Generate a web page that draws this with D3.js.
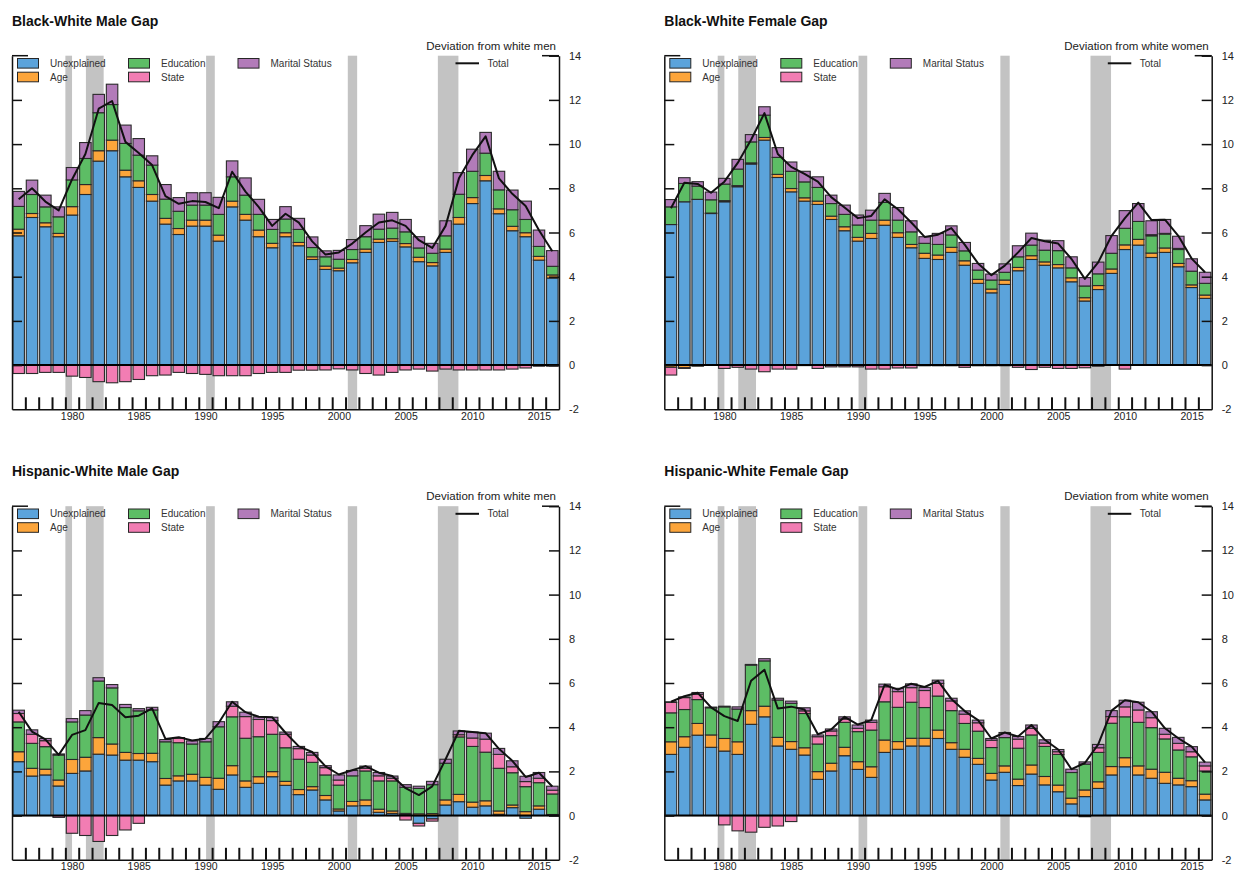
<!DOCTYPE html>
<html><head><meta charset="utf-8">
<script src="https://cdn.jsdelivr.net/npm/d3@7"></script>
<style>
body{margin:0;background:#fff}
svg{display:block}
text{font-family:"Liberation Sans",Arial,Helvetica,sans-serif}
</style>
</head><body>
<svg id="c" width="1236" height="872"></svg>
<script>
// ---------- DATA ----------
const years = [1976,1977,1978,1979,1980,1981,1982,1983,1984,1985,1986,1987,1988,1989,1990,1991,1992,1993,1994,1995,1996,1997,1998,1999,2000,2001,2002,2003,2004,2005,2006,2007,2008,2009,2010,2011,2012,2013,2014,2015,2016];
const components = ["Unexplained","Age","Education","State","Marital Status"];
const yTicks = [-2,0,2,4,6,8,10,12,14];
const yearLabels = [1980,1985,1990,1995,2000,2005,2010,2015];
const recessions = [[1980.0,1980.5],[1981.54,1982.87],[1990.55,1991.2],[2001.17,2001.87],[2007.92,2009.46]];

// Black-White Male
const bwmUnexplained = [5.85,6.68,6.26,5.81,6.79,7.72,9.23,9.70,8.52,8.04, 7.42,6.38,5.91,6.29,6.29,5.61,7.16,6.56,5.81,5.31, 5.81,5.40,4.78,4.33,4.27,4.63,5.10,5.55,5.60,5.35, 4.68,4.49,5.10,6.38,7.31,8.34,6.85,6.08,5.81,4.75, 3.94];
const bwmAge = [0.30,0.18,0.18,0.15,0.38,0.45,0.47,0.48,0.30,0.30, 0.30,0.26,0.27,0.27,0.27,0.27,0.26,0.26,0.30,0.20, 0.18,0.15,0.12,0.15,0.12,0.15,0.15,0.15,0.12,0.15, 0.20,0.15,0.15,0.30,0.27,0.24,0.22,0.20,0.18,0.17, 0.14];
const bwmEducation = [1.03,0.86,0.72,0.75,1.21,1.18,1.72,1.61,1.21,1.16, 1.33,0.87,0.78,0.68,0.68,0.94,1.10,0.87,0.71,0.63, 0.62,0.59,0.42,0.42,0.40,0.45,0.56,0.45,0.48,0.53, 0.42,0.42,0.60,1.05,1.19,1.01,0.86,0.75,0.60,0.45, 0.39];
const bwmState = [-0.38,-0.38,-0.33,-0.33,-0.50,-0.56,-0.75,-0.80,-0.75,-0.65, -0.48,-0.45,-0.33,-0.38,-0.42,-0.48,-0.48,-0.48,-0.38,-0.33, -0.33,-0.23,-0.23,-0.22,-0.17,-0.22,-0.38,-0.45,-0.33,-0.22, -0.18,-0.27,-0.18,-0.22,-0.22,-0.22,-0.22,-0.18,-0.13,-0.05, -0.05];
const bwmMarital = [0.68,0.65,0.53,0.45,0.56,0.72,0.83,0.92,0.83,0.75, 0.42,0.66,0.62,0.56,0.56,0.77,0.72,0.78,0.68,0.45, 0.56,0.50,0.48,0.27,0.40,0.45,0.50,0.68,0.71,0.56, 0.51,0.45,0.68,0.98,1.00,0.94,0.84,0.89,0.83,0.74, 0.71];
const bwmTotal = [7.5,8.0,7.4,7.0,8.4,9.55,11.6,11.95,10.1,9.6, 9.05,7.65,7.3,7.42,7.38,7.1,8.75,7.85,7.15,6.3, 6.85,6.45,5.6,5.0,5.1,5.5,6.0,6.45,6.55,6.3, 5.65,5.3,6.3,8.45,9.5,10.35,8.45,7.75,7.2,6.1, 5.15];

// Black-White Female
const bwfUnexplained = [6.36,7.39,7.50,6.86,7.39,8.07,9.10,10.18,8.49,7.84, 7.42,7.27,6.59,6.08,5.61,5.73,6.33,5.78,5.31,4.83, 4.78,5.10,4.52,3.70,3.27,3.65,4.27,4.78,4.52,4.40, 3.77,2.90,3.42,4.15,5.23,5.43,4.87,5.10,4.45,3.51, 3.02];
const bwfAge = [-0.10,-0.12,-0.05,0.02,0.05,0.05,0.05,0.12,0.14,0.15, 0.15,0.15,0.15,0.18,0.17,0.23,0.23,0.21,0.15,0.23, 0.20,0.23,0.20,0.18,0.17,0.20,0.15,0.17,0.15,0.15, 0.18,0.15,0.18,0.20,0.21,0.26,0.20,0.20,0.15,0.12, 0.15];
const bwfEducation = [0.80,0.83,0.60,0.60,0.75,0.75,0.95,1.01,0.77,0.78, 0.72,0.62,0.57,0.56,0.56,0.60,0.80,0.57,0.57,0.45, 0.48,0.56,0.45,0.42,0.41,0.35,0.48,0.48,0.53,0.63, 0.45,0.53,0.53,0.71,0.75,0.81,0.78,0.63,0.63,0.62, 0.53];
const bwfState = [-0.35,-0.03,0,0,-0.15,-0.10,-0.18,-0.30,-0.18,-0.18, -0.02,-0.15,-0.08,-0.08,-0.08,-0.18,-0.18,-0.13,-0.13,-0.03, -0.03,-0.03,-0.10,-0.03,-0.03,-0.03,-0.10,-0.20,-0.10,-0.15, -0.15,-0.12,-0.05,0,-0.18,0,0.05,0.03,0.05,0, 0];
const bwfMarital = [0.33,0.26,0.20,0.35,0.26,0.44,0.33,0.38,0.44,0.42, 0.48,0.48,0.38,0.42,0.45,0.45,0.41,0.57,0.50,0.30, 0.50,0.41,0.38,0.30,0.27,0.38,0.50,0.54,0.45,0.45, 0.50,0.38,0.53,0.80,0.80,0.81,0.63,0.63,0.55,0.56, 0.50];
const bwfTotal = [7.1,8.25,8.2,7.8,8.3,9.15,10.2,11.4,9.55,8.97, 8.65,8.3,7.6,7.13,6.65,6.75,7.5,7.05,6.45,5.8, 5.9,6.2,5.45,4.6,4.07,4.5,5.1,5.75,5.6,5.5, 4.8,3.9,4.65,5.85,6.65,7.35,6.56,6.58,5.85,4.82, 4.2];

// Hispanic-White Male
const hwmUnexplained = [2.44,1.79,1.84,1.34,1.91,2.02,2.78,2.74,2.51,2.51, 2.44,1.38,1.57,1.57,1.38,1.19,1.84,1.28,1.46,1.76, 1.37,0.95,1.16,0.71,0.21,0.44,0.45,0.15,0.10,0.05, -0.35,-0.15,0.48,0.63,0.38,0.44,0.06,0.36,-0.12,0.29, 0.03];
const hwmAge = [0.45,0.35,0.26,0.27,0.63,0.62,0.75,0.50,0.35,0.30, 0.38,0.30,0.23,0.30,0.35,0.50,0.42,0.29,0.30,0.23, 0.18,0.23,0.15,0.20,0.09,0.20,0.26,0.14,0.11,0.05, 0.08,0.09,0.23,0.33,0.23,0.23,0.15,0.12,0.18,0.15, 0.02];
const hwmEducation = [1.35,1.13,1.02,1.13,1.70,1.91,2.56,2.54,2.03,1.93, 1.96,1.66,1.50,1.37,1.61,2.33,2.21,1.93,1.81,1.69, 1.52,1.37,1.10,0.93,1.08,1.16,1.31,1.28,1.36,1.18, 1.15,1.31,1.66,2.60,2.52,2.20,1.93,1.46,1.13,1.05, 0.93];
const hwmState = [0.38,0.41,0.27,-0.08,-0.80,-0.90,-1.17,-0.90,-0.65,-0.35, 0,0,0.20,0,0,0,0.48,0.98,0.78,0.62, 0.61,0.48,0.33,0.33,0.23,0,0.12,0.23,0.12,-0.20, -0.12,-0.10,0,0.10,0.38,0.59,0.63,0.27,0.23,0.20, 0.17];
const hwmMarital = [0.15,0.20,0.10,0.05,0.15,0.20,0.15,0.15,0.14,0.10, 0.12,0.10,0.03,0.14,0.15,0.23,0.20,0.20,0.12,0.15, 0.10,0.10,0.12,0.09,0.23,0.24,0.10,0.15,0.10,0.12, 0.10,0.15,0.18,0.17,0.27,0.27,0.27,0.27,0.24,0.26, 0.18];
const hwmTotal = [4.7,3.8,3.45,2.75,3.65,3.87,5.1,5.0,4.45,4.52, 4.85,3.47,3.55,3.4,3.48,4.2,5.15,4.68,4.47,4.45, 3.75,3.13,2.88,2.23,1.86,2.05,2.24,1.94,1.79,1.24, 0.93,1.32,2.55,3.84,3.78,3.73,3.02,2.48,1.75,1.94, 1.32];

// Hispanic-White Female
const hwfUnexplained = [2.77,3.09,3.64,3.09,2.92,2.77,4.13,4.47,3.15,3.00, 2.74,1.64,2.02,2.71,2.09,1.73,2.86,3.00,3.15,3.15, 3.49,3.00,2.64,2.32,1.61,1.96,1.36,1.88,1.39,1.08, 0.53,0.86,1.23,1.84,2.21,1.84,1.69,1.46,1.39,1.31, 0.71];
const hwfAge = [0.57,0.48,0.53,0.56,0.57,0.57,0.62,0.48,0.39,0.35, 0.33,0.35,0.35,0.38,0.35,0.48,0.56,0.35,0.35,0.35, 0.38,0.30,0.36,0.27,0.30,0.29,0.29,0.41,0.38,0.30, 0.26,0.30,0.30,0.38,0.41,0.41,0.41,0.50,0.30,0.27, 0.26];
const hwfEducation = [1.31,1.23,1.08,1.23,1.43,1.48,2.06,2.05,1.69,1.73, 1.55,1.25,1.25,1.13,1.36,1.66,1.73,1.55,1.63,1.39, 1.54,1.45,1.17,1.23,1.17,1.28,1.40,1.36,1.36,1.39, 1.16,1.17,1.33,1.96,1.85,1.97,1.88,1.51,1.28,1.08, 1.05];
const hwfState = [0.47,0.54,0.24,0,-0.42,-0.69,-0.75,-0.53,-0.47,-0.27, 0.12,0.33,0.21,0.15,0.15,0.35,0.68,0.71,0.66,0.77, 0.57,0.44,0.42,0.38,0.33,0,0.41,0.30,0.15,0.12, 0,-0.05,0.21,0.30,0.45,0.56,0.45,0.21,0.30,0.23, 0.23];
const hwfMarital = [0.03,0.03,0.08,0.03,0.03,0.10,0.03,0.10,0.08,0.10, 0.14,0.08,0.09,0.10,0.15,0.10,0.12,0.15,0.17,0.14, 0.15,0.12,0.15,0.12,0.08,0.23,0.12,0.15,0.15,0.10, 0.15,0.10,0.15,0.27,0.30,0.35,0.27,0.27,0.27,0.23, 0.17];
const hwfTotal = [5.15,5.4,5.56,4.9,4.5,4.28,6.1,6.6,4.85,4.93, 4.8,3.68,3.9,4.47,4.12,4.32,5.92,5.7,5.97,5.82, 6.1,5.28,4.73,4.32,3.49,3.76,3.58,4.1,3.43,2.99, 2.1,2.38,3.22,4.75,5.22,5.13,4.7,3.95,3.5,3.12, 2.41];

// ---------- STYLE ----------
const colors = ["#5ba3db","#fca53b","#5dbd65","#f27db3","#b27bb9"];
const panels = [
  {title:"Black-White Male Gap", sub:"Deviation from white men", x0:12, x1:559, yTop:55.7, yBot:409.3,
   series:[bwmUnexplained,bwmAge,bwmEducation,bwmState,bwmMarital], total:bwmTotal},
  {title:"Black-White Female Gap", sub:"Deviation from white women", x0:664.3, x1:1211.7, yTop:55.7, yBot:409.3,
   series:[bwfUnexplained,bwfAge,bwfEducation,bwfState,bwfMarital], total:bwfTotal},
  {title:"Hispanic-White Male Gap", sub:"Deviation from white men", x0:12, x1:559, yTop:506.2, yBot:859.8,
   series:[hwmUnexplained,hwmAge,hwmEducation,hwmState,hwmMarital], total:hwmTotal},
  {title:"Hispanic-White Female Gap", sub:"Deviation from white women", x0:664.3, x1:1211.7, yTop:506.2, yBot:859.8,
   series:[hwfUnexplained,hwfAge,hwfEducation,hwfState,hwfMarital], total:hwfTotal}
];

const svg = d3.select("#c");

function drawPanel(p){
  const g = svg.append("g");
  const x = d3.scaleLinear().domain([1976,2017]).range([p.x0,p.x1]);
  const y = d3.scaleLinear().domain([-2,14]).range([p.yBot,p.yTop]);

  // title + subtitle
  svg.append("text").attr("x",p.x0).attr("y",p.yTop-30).attr("font-size",14).attr("font-weight","bold")
     .attr("fill","#111").text(p.title);
  svg.append("text").attr("x",p.x1-3).attr("y",p.yTop-6).attr("text-anchor","end").attr("font-size",11.5)
     .attr("fill","#222").text(p.sub);

  // recession shading
  g.selectAll("rect.rec").data(recessions).join("rect").attr("class","rec")
   .attr("x",d=>x(d[0])).attr("width",d=>x(d[1])-x(d[0]))
   .attr("y",y(14)).attr("height",y(-2)-y(14)).attr("fill","#c3c3c3");

  // stacked bars (positive up, negative down)
  const segs = [];
  years.forEach((yr,i)=>{
    let pos=0, neg=0;
    p.series.forEach((s,k)=>{
      const v = s[i];
      if(!v) return;
      let a,b;
      if(v>0){a=pos;b=pos+v;pos=b;} else {a=neg+v;b=neg;neg=a;}
      segs.push({yr,k,a,b});
    });
  });
  const bw = (x(1977)-x(1976))*0.86;
  g.selectAll("rect.bar").data(segs).join("rect").attr("class","bar")
   .attr("x",d=>x(d.yr+0.5)-bw/2).attr("width",bw)
   .attr("y",d=>y(d.b)).attr("height",d=>Math.max(0.5,y(d.a)-y(d.b)))
   .attr("fill",d=>colors[d.k]).attr("stroke","#2a2a2a").attr("stroke-width",1.1);

  // zero line
  g.append("line").attr("x1",p.x0).attr("x2",p.x1).attr("y1",y(0)).attr("y2",y(0))
   .attr("stroke","#000").attr("stroke-width",2);

  // total line
  g.append("path").datum(p.total)
   .attr("d",d3.line().x((d,i)=>x(years[i]+0.5)).y(d=>y(d)))
   .attr("fill","none").attr("stroke","#111").attr("stroke-width",2).attr("stroke-linejoin","round");

  // left axis (ticks inward)
  const la = g.append("g").attr("transform",`translate(${p.x0},0)`)
    .call(d3.axisLeft(y).tickValues(yTicks.filter(v=>v>-2&&v<14)).tickSize(-10).tickSizeOuter(0).tickFormat(""));
  la.select(".domain").attr("stroke","#111").attr("stroke-width",1.5);
  la.selectAll(".tick line").attr("stroke","#111").attr("stroke-width",1.5);
  g.append("line").attr("x1",p.x0).attr("x2",p.x0+16).attr("y1",y(14)).attr("y2",y(14)).attr("stroke","#111").attr("stroke-width",1.5);

  // right axis (ticks inward, labels outside)
  const ra = g.append("g").attr("transform",`translate(${p.x1},0)`)
    .call(d3.axisRight(y).tickValues(yTicks).tickSize(-10).tickSizeOuter(0).tickPadding(10).tickFormat(d=>String(d)));
  ra.select(".domain").attr("stroke","#111").attr("stroke-width",1.5);
  ra.selectAll(".tick line").attr("stroke","#111").attr("stroke-width",1.5)
    .filter(d=>d===-2).remove();
  ra.selectAll(".tick text").attr("font-size",11).attr("fill","#222")
    .style("font-family",'"Liberation Sans",Arial,sans-serif');
  g.append("line").attr("x1",p.x1-17).attr("x2",p.x1).attr("y1",y(14)).attr("y2",y(14)).attr("stroke","#111").attr("stroke-width",1.5);

  // bottom axis: year boundary ticks
  const ba = g.append("g").attr("transform",`translate(0,${p.yBot})`)
    .call(d3.axisBottom(x).tickValues(years.slice(1)).tickSize(-12).tickSizeOuter(0).tickFormat(""));
  ba.select(".domain").attr("stroke","#111").attr("stroke-width",1.5);
  ba.selectAll(".tick line").attr("stroke","#111").attr("stroke-width",2);

  // bottom labels at year centres
  const bl = g.append("g").attr("transform",`translate(0,${p.yBot})`)
    .call(d3.axisBottom(x).tickValues(yearLabels.map(v=>v+0.5)).tickSize(0).tickPadding(3).tickFormat(d=>Math.floor(d)));
  bl.select(".domain").remove();
  bl.selectAll(".tick text").attr("font-size",10.5).attr("fill","#222")
    .style("font-family",'"Liberation Sans",Arial,sans-serif');

  // legend
  const lg = g.append("g");
  const r1 = p.yTop+7.6, r2 = p.yTop+21.3;
  const items = [
    {k:0,x:p.x0+5.5,y:r1},{k:2,x:p.x0+116.5,y:r1},{k:4,x:p.x0+226,y:r1},
    {k:1,x:p.x0+5.5,y:r2},{k:3,x:p.x0+116.5,y:r2}
  ];
  lg.selectAll("rect").data(items).join("rect")
    .attr("x",d=>d.x).attr("y",d=>d.y-4.8).attr("width",21).attr("height",9.6)
    .attr("fill",d=>colors[d.k]).attr("stroke","#262626").attr("stroke-width",1);
  lg.selectAll("text").data(items).join("text")
    .attr("x",d=>d.x+32.5).attr("y",d=>d.y).attr("dominant-baseline","central")
    .attr("font-size",10).attr("fill","#333").text(d=>components[d.k]);
  lg.append("line").attr("x1",p.x0+443.5).attr("x2",p.x0+467).attr("y1",r1).attr("y2",r1)
    .attr("stroke","#111").attr("stroke-width",2);
  lg.append("text").attr("x",p.x0+475.5).attr("y",r1).attr("dominant-baseline","central")
    .attr("font-size",10).attr("fill","#333").text("Total");
}

panels.forEach(drawPanel);
</script>
</body></html>
